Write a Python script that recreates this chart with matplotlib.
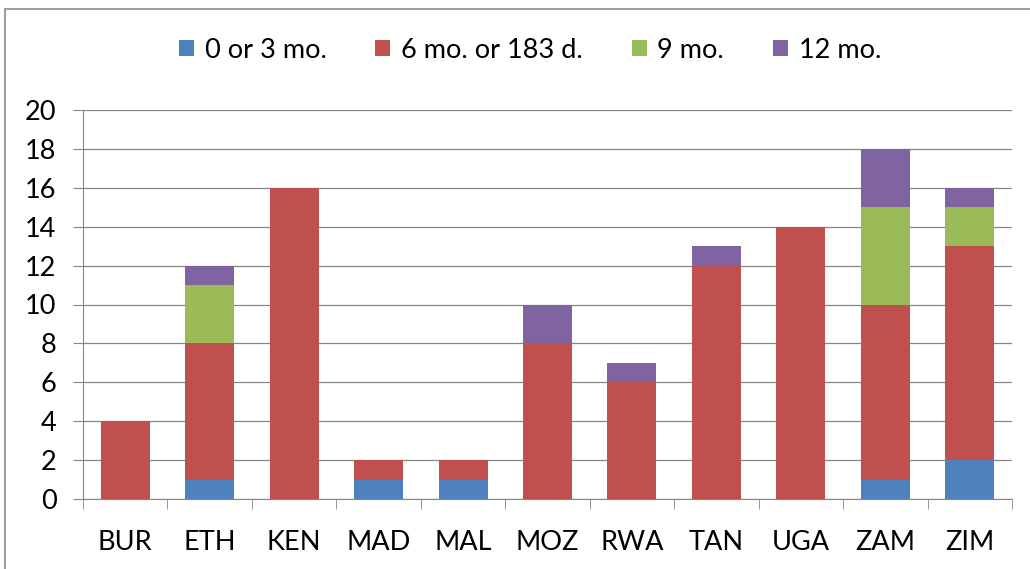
import matplotlib.pyplot as plt
from matplotlib.lines import Line2D
import numpy as np

countries = ["BUR", "ETH", "KEN", "MAD", "MAL", "MOZ", "RWA", "TAN", "UGA", "ZAM", "ZIM"]
series_names = ["0 or 3 mo.", "6 mo. or 183 d.", "9 mo.", "12 mo."]
mo_0_3 = [0, 1, 0, 1, 1, 0, 0, 0, 0, 1, 2]
mo_6 = [4, 7, 16, 1, 1, 8, 6, 12, 14, 9, 11]
mo_9 = [0, 3, 0, 0, 0, 0, 0, 0, 0, 5, 2]
mo_12 = [0, 1, 0, 0, 0, 2, 1, 1, 0, 3, 1]
yticks = [0, 2, 4, 6, 8, 10, 12, 14, 16, 18, 20]

colors = ["#4F81BD", "#C0504D", "#9BBB59", "#8064A2"]
grid_color = "#868686"

plt.rcParams["font.family"] = ["Lato", "DejaVu Sans"]

fig = plt.figure(figsize=(10.30, 5.69), dpi=100)
ax = fig.add_axes([83 / 1030, 1 - 499 / 569, (1012 - 83) / 1030, (499 - 110) / 569])

x = np.arange(len(countries))
bottom = np.zeros(len(countries))
for name, vals, c in zip(series_names, [mo_0_3, mo_6, mo_9, mo_12], colors):
    ax.bar(x, vals, width=0.58, bottom=bottom, color=c, label=name, zorder=3)
    bottom += np.array(vals)

ax.set_xlim(-0.5, len(countries) - 0.5)
ax.set_ylim(0, 20)
ax.set_yticks(yticks)
ax.grid(axis="y", color=grid_color, linewidth=0.9, zorder=0)

for side in ["top", "right"]:
    ax.spines[side].set_visible(False)
ax.spines["left"].set_color(grid_color)
ax.spines["bottom"].set_color(grid_color)

ax.tick_params(axis="y", length=7, color=grid_color, pad=12, labelsize=19.5)
ax.set_xticks(x)
ax.set_xticklabels(countries)
ax.tick_params(axis="x", length=0, pad=22, labelsize=19.5)
ax.set_xticks(np.arange(len(countries) + 1) - 0.5, minor=True)
ax.tick_params(axis="x", which="minor", length=7, color=grid_color)

ax.legend(loc="center", bbox_to_anchor=(0.5 + 15 / 1030, 1 - 50 / 569), bbox_transform=fig.transFigure,
          ncol=4, frameon=False, fontsize=19.5, handlelength=0.55, handleheight=0.55,
          handletextpad=0.4, columnspacing=1.8)

# chart border like the spreadsheet export
fig.add_artist(Line2D([5 / 1030, 5 / 1030], [0, 1 - 9 / 569], color="#A0A0A0", linewidth=1.5))
fig.add_artist(Line2D([5 / 1030, 1], [1 - 9 / 569, 1 - 9 / 569], color="#A0A0A0", linewidth=1.5))

fig.savefig("out.png", dpi=100)
